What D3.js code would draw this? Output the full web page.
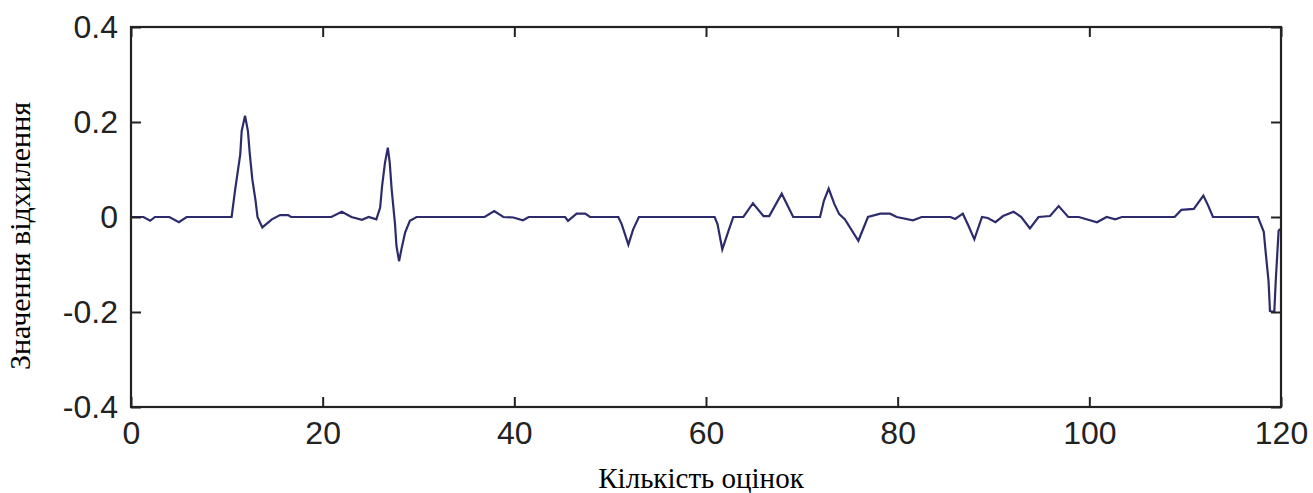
<!DOCTYPE html>
<html><head><meta charset="utf-8">
<script src="https://cdn.jsdelivr.net/npm/d3@7"></script>
<style>body{margin:0;background:#fff}svg{display:block}</style>
</head><body>
<svg id="c" width="1313" height="493"></svg>
<script>
const xValues = [0,1.3,2,2.5,4,5,5.8,10.5,10.85,11.4,11.55,11.9,12.2,12.4,12.66,13.0,13.2,13.7,14.7,15.55,16.4,16.7,20.9,22.0,23.0,24.1,24.8,25.6,26.0,26.2,26.5,26.8,27.0,27.2,27.55,27.7,27.97,28.25,28.6,29.1,29.8,36.9,37.9,38.85,39.9,40.9,41.5,45.3,45.6,46.5,47.4,47.9,50.85,51.2,51.9,52.4,53.0,60.9,61.2,61.7,62.4,62.85,63.9,64.9,66.0,66.6,67.9,69.1,71.9,72.3,72.8,73.4,73.9,74.5,75.9,76.9,78.2,79.2,79.9,81.6,82.5,85.5,86.0,86.8,87.4,88.0,88.8,89.4,90.2,91.0,92.1,92.9,93.8,94.7,95.9,96.8,97.8,98.9,100.8,101.8,102.7,103.4,108.9,109.6,110.9,111.9,112.4,112.9,117.6,118.2,118.4,118.7,118.85,119.3,119.45,119.75,119.9];
const yValues = [0,0,-0.008,0,0,-0.011,0,0,0.055,0.132,0.181,0.213,0.181,0.132,0.079,0.034,0,-0.022,-0.005,0.004,0.004,0,0,0.011,0,-0.006,0,-0.005,0.02,0.065,0.114,0.146,0.114,0.058,-0.015,-0.061,-0.093,-0.065,-0.033,-0.008,0,0,0.0126,0,-0.001,-0.007,0,0,-0.008,0.007,0.007,0,0,-0.015,-0.058,-0.026,0,0,-0.015,-0.068,-0.026,0,0,0.029,0.002,0.002,0.049,0,0,0.034,0.060,0.027,0.006,-0.005,-0.05,0,0.007,0.007,0,-0.007,0,0,-0.004,0.007,-0.019,-0.047,0,-0.002,-0.011,0.002,0.011,0,-0.024,0,0.002,0.023,0,0,-0.011,0,-0.005,0,0,0.015,0.017,0.045,0.024,0,0,-0.031,-0.074,-0.135,-0.198,-0.2,-0.135,-0.029,-0.025];
const xTicks = [0,20,40,60,80,100,120];
const yTicks = [-0.4,-0.2,0,0.2,0.4];
const yTickLabels = ["-0.4","-0.2","0","0.2","0.4"];
const xTitle = "Кількість оцінок";
const yTitle = "Значення відхилення";

const svg = d3.select("#c");
const L = 131, R = 1281, T = 27, B = 407;
const x = d3.scaleLinear().domain([0,120]).range([L,R]);
const y = d3.scaleLinear().domain([-0.4,0.4]).range([B,T]);
const tickLen = 10;
const axisColor = "#222";

// series
svg.append("path")
  .datum(xValues.map((v,i)=>[v,yValues[i]]))
  .attr("fill","none").attr("stroke","#2c2c6c").attr("stroke-width",2.2)
  .attr("stroke-linejoin","miter")
  .attr("d", d3.line().x(d=>x(d[0])).y(d=>y(d[1])));

// frame
svg.append("rect").attr("x",L).attr("y",T).attr("width",R-L).attr("height",B-T)
  .attr("fill","none").attr("stroke",axisColor).attr("stroke-width",2.2);

const fmtY = d => yTickLabels[yTicks.indexOf(d)];
const axB = svg.append("g").attr("transform",`translate(0,${B})`)
  .call(d3.axisBottom(x).tickValues(xTicks).tickSize(-tickLen).tickPadding(14).tickFormat(d3.format("d")));
const axT = svg.append("g").attr("transform",`translate(0,${T})`)
  .call(d3.axisTop(x).tickValues(xTicks).tickSize(-tickLen).tickFormat(""));
const axL = svg.append("g").attr("transform",`translate(${L},0)`)
  .call(d3.axisLeft(y).tickValues(yTicks).tickSize(-tickLen).tickPadding(13).tickFormat(fmtY));
const axR = svg.append("g").attr("transform",`translate(${R},0)`)
  .call(d3.axisRight(y).tickValues(yTicks).tickSize(-tickLen).tickFormat(""));
[axB,axT,axL,axR].forEach(g=>{
  g.select(".domain").remove();
  g.selectAll(".tick line").attr("stroke",axisColor).attr("stroke-width",2);
  g.selectAll(".tick text").attr("fill","#222").style("font-family","'Liberation Sans', Arial, sans-serif").style("font-size","32px");
});

// titles
svg.append("text").attr("x",701).attr("y",488).attr("text-anchor","middle")
  .style("font-family","'Liberation Serif','Times New Roman',serif").style("font-size","29px").attr("fill","#000")
  .text(xTitle);
svg.append("text").attr("transform",`translate(30,236) rotate(-90)`).attr("text-anchor","middle")
  .style("font-family","'Liberation Serif','Times New Roman',serif").style("font-size","30px").attr("fill","#000")
  .text(yTitle);
</script>
</body></html>
